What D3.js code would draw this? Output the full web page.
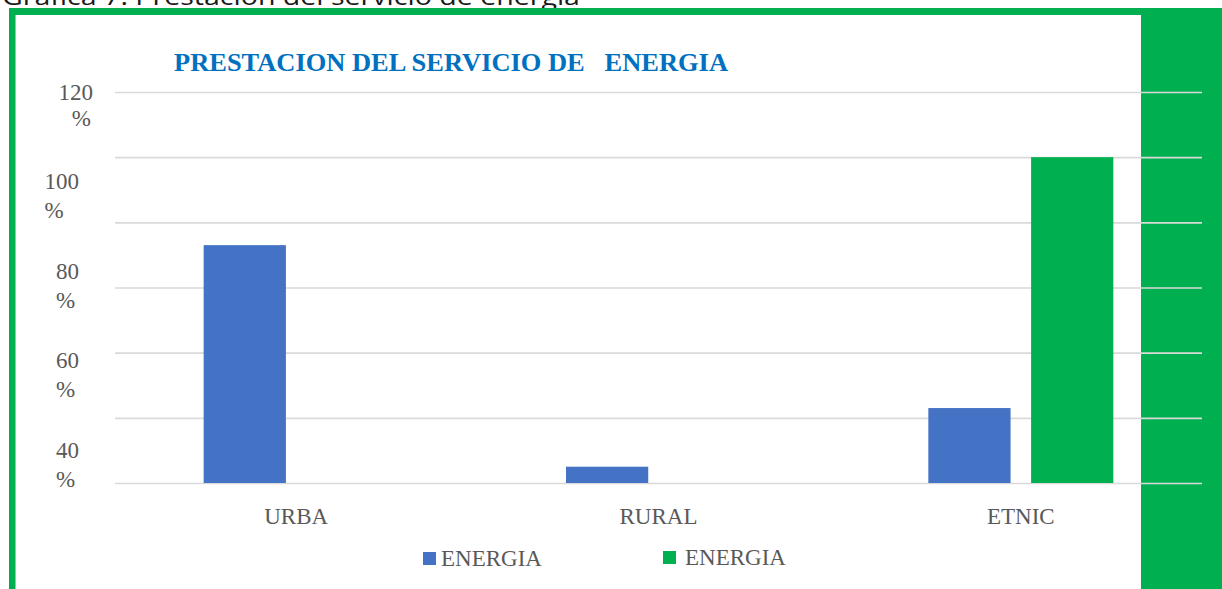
<!DOCTYPE html>
<html>
<head>
<meta charset="utf-8">
<script src="https://cdn.jsdelivr.net/npm/d3@7"></script>
<style>
  body { margin: 0; background: #fff; }
  svg { display: block; }
  text { font-family: "Liberation Serif", "Times New Roman", serif; }
</style>
</head>
<body>
<svg id="chart" width="1222" height="589"></svg>
<script>
// data
let categories = ["URBA", "RURAL", "ETNIC"];
let seriesNames = ["ENERGIA", "ENERGIA "];   // both series are called ENERGIA in the legend
let blueValues = [73, 5, 23];
let greenValues = [0, 0, 100];
let yTicks = [0, 20, 40, 60, 80, 100, 120];
let yTickLabels = ["120", "100", "80", "60", "40"];
let chartTitle = "PRESTACION DEL SERVICIO DE   ENERGIA";
let caption = "Gráfica 7. Prestación del servicio de energía";

let colors = { blue: "#4472C4", green: "#00B050", grid: "#D9D9D9", text: "#595959", title: "#0070C0" };

let svg = d3.select("#chart");

// caption cut off by the top of the picture
svg.append("text")
    .attr("x", 2)
    .attr("y", 5)
    .attr("textLength", 578)
    .attr("lengthAdjust", "spacingAndGlyphs")
    .style("font-family", "'Open Sans', 'DejaVu Sans', sans-serif")
    .style("font-size", "24px")
    .style("fill", "#1a1a1a")
    .text(caption);

// green frame
svg.append("rect").attr("x", 9).attr("y", 8).attr("width", 1213).attr("height", 7).attr("fill", colors.green);
svg.append("rect").attr("x", 9).attr("y", 8).attr("width", 6.5).attr("height", 581).attr("fill", colors.green);
svg.append("rect").attr("x", 1141).attr("y", 8).attr("width", 81).attr("height", 581).attr("fill", colors.green);

let plot = { left: 115, right: 1202, top: 92, bottom: 483 };

let y = d3.scaleLinear()
    .domain([0, 120])
    .range([plot.bottom, plot.top]);

let x0 = d3.scaleBand()
    .domain(categories)
    .range([plot.left, plot.right])
    .padding(0);

let bw = x0.bandwidth();
let x1 = d3.scaleBand()
    .domain([0, 1])
    .range([bw / 2 - 92.5, bw / 2 + 92.5])
    .paddingInner(0.2);

//gridlines
let yAxis = d3.axisLeft(y)
    .tickValues(yTicks)
    .tickSize(-(plot.right - plot.left))
    .tickFormat("");
let gy = svg.append("g")
    .attr("transform", "translate(" + plot.left + ",0)")
    .call(yAxis);
gy.select(".domain").remove();
gy.selectAll("line")
    .attr("stroke", colors.grid)
    .attr("stroke-width", 1.6);

// y labels (they sit lower than their gridlines in the original)
let labelScale = d3.scalePoint()
    .domain(yTickLabels)
    .range([100, 457.5]);

let yl = svg.append("g");
yTickLabels.forEach(function(lab, i) {
    let t = yl.append("text")
        .attr("x", i == 0 ? 93 : 79)
        .attr("y", labelScale(lab))
        .attr("text-anchor", "end")
        .style("font-size", "23px")
        .style("fill", colors.text)
        .text(lab);
    let w = t.node().getComputedTextLength();
    yl.append("text")
        .attr("x", i == 0 ? 91 : 79 - w)
        .attr("y", labelScale(lab) + (i == 0 ? 26 : 29))
        .attr("text-anchor", i == 0 ? "end" : "start")
        .style("font-size", "23px")
        .style("fill", colors.text)
        .text("%");
});

// bars
let rows = categories.map(function(c, i) {
    return { cat: c, values: [blueValues[i], greenValues[i]] };
});

let groups = svg.append("g")
    .selectAll("g")
    .data(rows)
    .enter()
    .append("g")
    .attr("transform", d => "translate(" + x0(d.cat) + ",0)");

groups.selectAll("rect")
    .data(d => d.values.map((v, j) => ({ j: j, v: v })))
    .enter()
    .append("rect")
    .attr("x", d => x1(d.j))
    .attr("width", x1.bandwidth())
    .attr("y", d => y(d.v))
    .attr("height", d => y(0) - y(d.v))
    .attr("fill", d => d.j == 0 ? colors.blue : colors.green);

// category axis
let gx = svg.append("g")
    .attr("transform", "translate(0," + plot.bottom + ")")
    .call(d3.axisBottom(x0).tickSize(0).tickPadding(24.5));
gx.select(".domain").remove();
gx.selectAll("text")
    .style("font-family", "'Liberation Serif', serif")
    .style("font-size", "23px")
    .style("fill", colors.text);

// title
svg.append("text")
    .attr("x", 174)
    .attr("y", 71)
    .attr("textLength", 554)
    .attr("lengthAdjust", "spacingAndGlyphs")
    .style("white-space", "pre")
    .style("font-size", "26px")
    .style("font-weight", "bold")
    .style("fill", colors.title)
    .text(chartTitle);

// legend
let legendX = [423, 663];
let legendColors = [colors.blue, colors.green];
let legend = svg.append("g")
    .selectAll("g")
    .data(seriesNames)
    .enter()
    .append("g")
    .attr("transform", (d, i) => "translate(" + legendX[i] + "," + (i == 0 ? 552 : 551) + ")");
legend.append("rect")
    .attr("width", 13)
    .attr("height", 13)
    .attr("fill", (d, i) => legendColors[i]);
legend.append("text")
    .attr("x", (d, i) => i == 0 ? 18 : 22)
    .attr("y", 14)
    .style("font-size", "23px")
    .style("fill", colors.text)
    .text(d => d.trim());
</script>
</body>
</html>
